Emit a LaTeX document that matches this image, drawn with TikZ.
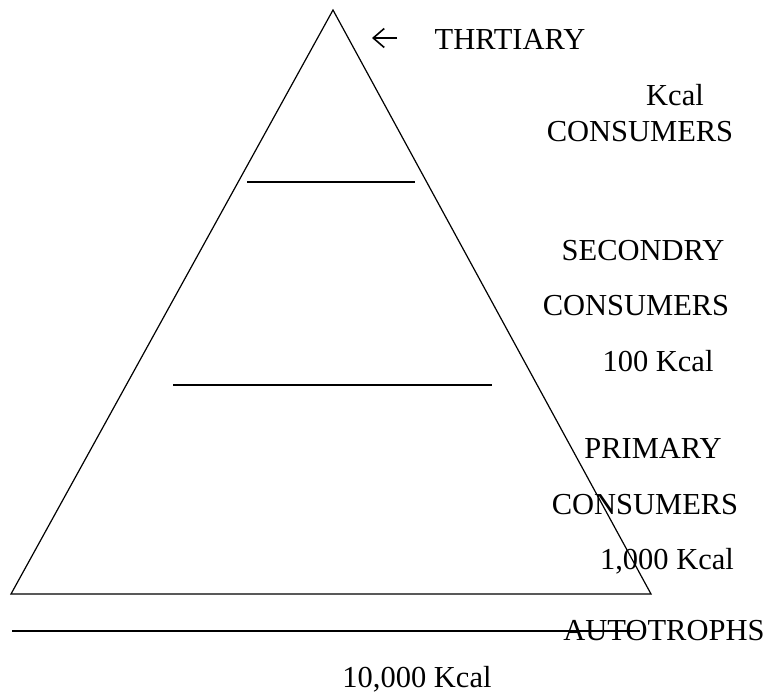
\documentclass[tikz,border=0pt]{standalone}
\usepackage{fontspec}
\setmainfont{Liberation Serif}
\usetikzlibrary{arrows.meta}

\begin{document}
\begin{tikzpicture}[x=1pt,y=1pt,line width=1.2pt]
\tikzstyle{every node}+=[inner sep=0pt,anchor=base,font=\fontsize{30.5}{36}\selectfont]
\useasboundingbox (0,0) rectangle (770,-694);
\draw [black] (333,-10) -- (11,-594) -- (651,-594) -- cycle;
\draw [black] (247,-182) -- (415,-182);
\draw [black] (173,-385) -- (492,-385);
\draw [black] (12,-631) -- (640,-631);
\draw [black,line width=1.6pt,-{Straight Barb[length=11pt,width=19pt]}] (397,-38) -- (372,-38);
\draw (510,-49) node (thrtiary) {THRTIARY};
\draw (675,-105) node (kcaltop) {Kcal};
\draw (640,-141.5) node (cons3) {CONSUMERS};
\draw (643,-260) node (secondry) {SECONDRY};
\draw (636,-315) node (cons2) {CONSUMERS};
\draw (658,-371) node (kcal100) {100 Kcal};
\draw (653,-458) node (primary) {PRIMARY};
\draw (645,-514) node (cons1) {CONSUMERS};
\draw (667,-569) node (kcal1000) {1,000 Kcal};
\draw (664,-640) node (autotrophs) {AUTOTROPHS};
\draw (417,-687) node (kcal10000) {10,000 Kcal};
\end{tikzpicture}
\end{document}
